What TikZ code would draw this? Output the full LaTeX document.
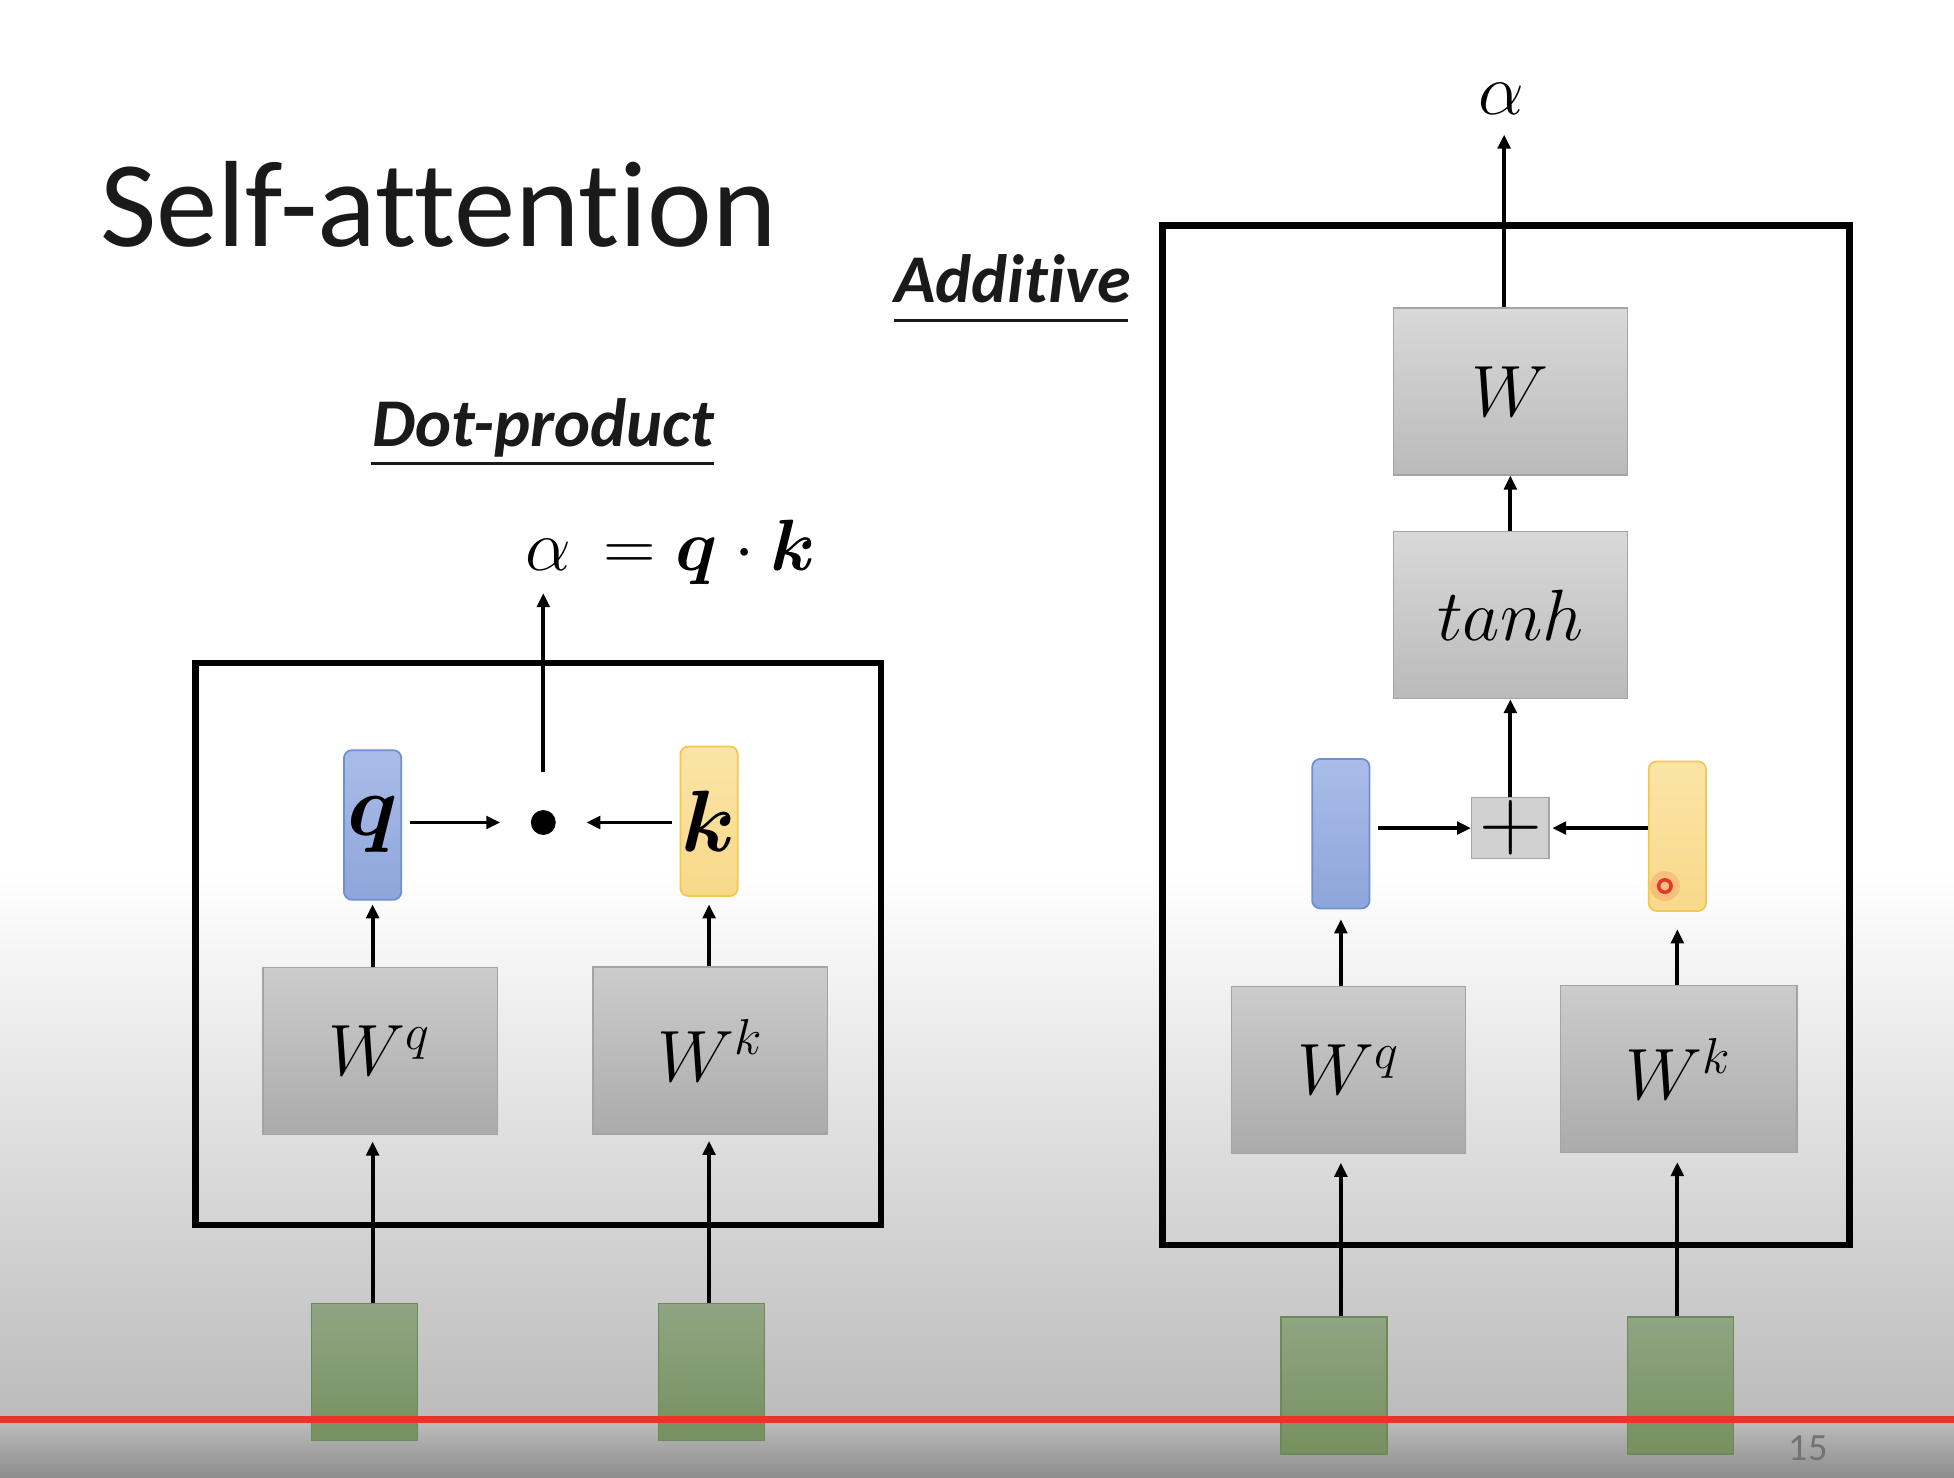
\documentclass[tikz,border=0pt]{standalone}
\usepackage{fontspec}
\usepackage{amsmath,bm}
\newfontfamily\carlito[Ligatures=NoCommon]{Carlito}
\usetikzlibrary{arrows.meta,calc}
\newcommand\upx{0.125mm}
\definecolor{titlecol}{HTML}{1A1A1A}
\definecolor{boxline}{HTML}{A4A4A4}
\definecolor{blueline}{HTML}{6D8FD6}
\definecolor{bluetop}{HTML}{AABDE9}
\definecolor{bluebot}{HTML}{8EA5DB}
\definecolor{yelline}{HTML}{F2C94C}
\definecolor{yeltop}{HTML}{FBE4A6}
\definecolor{yelbot}{HTML}{F8D98A}
\definecolor{grline}{HTML}{6C8A58}
\definecolor{grtop}{HTML}{8FA583}
\definecolor{grbot}{HTML}{76905F}
\definecolor{redline}{HTML}{E8352A}
\begin{document}
\begin{tikzpicture}[x=0.125mm,y=-0.125mm,
  arr/.style={-{Triangle[length=4pt,width=3.6pt]}, line width=1.1pt, black},
  frame/.style={line width=1.9pt, black},
  wbox/.style={draw=boxline, line width=0.4pt, top color=#1, bottom color=black!27,
    minimum width=188*\upx, minimum height=134*\upx, inner sep=0,
    font=\fontsize{20}{24}\selectfont},
  wbox/.default={black!15},
  wboxlow/.style={wbox, top color=black!20, bottom color=black!33},
  qvec/.style={draw=blueline, line width=0.5pt, rounded corners=0.8mm, top color=bluetop, bottom color=bluebot,
    minimum width=46*\upx, minimum height=120*\upx, inner sep=0, font=\fontsize{24}{28}\selectfont},
  kvec/.style={draw=yelline, line width=0.5pt, rounded corners=0.8mm, top color=yeltop, bottom color=yelbot,
    minimum width=46*\upx, minimum height=120*\upx, inner sep=0, font=\fontsize{24}{28}\selectfont},
  invec/.style={draw=grline, line width=0.5pt, top color=grtop, bottom color=grbot,
    minimum width=85*\upx, minimum height=110*\upx, inner sep=0},
  heading/.style={font=\carlito\bfseries\itshape\fontsize{19.5}{22}\selectfont, inner sep=0, anchor=base west, text=titlecol},
  mathlbl/.style={font=\fontsize{20}{24}\selectfont, inner sep=0}
]
\useasboundingbox (0,0) rectangle (1568,1186);
\clip (0,0) rectangle (1568,1186);
% background
\fill[white] (0,0) rectangle (1568,701);
\shade[top color=white, bottom color=black!27] (0,700) rectangle (1568,1146);
\shade[top color=black!28, bottom color=black!45] (0,1145) rectangle (1568,1186);

% titles
\node[anchor=base west, inner sep=0, font=\carlito\fontsize{35}{40}\selectfont, text=titlecol] (title) at (80,198) {Self-attention};
\node[heading] (dp) at (298,358) {Dot-product};
\draw[line width=0.7pt, titlecol] (298,372) -- (573,372);
\node[heading] (ad) at (717,243) {Additive};
\draw[line width=0.7pt, titlecol] (717,257) -- (905,257);

% ---------- Dot-product ----------
\draw[frame] (157,532) rectangle (707,983);
\node[wboxlow] (Wq1) at (305,843.5) {$W^{q}$};
\node[wboxlow] (Wk1) at (570,843) {$W^{k}$};
\node[qvec] (q1) at (299,662) {$\bm{q}$};
\node[kvec] (k1) at (569,659) {$\bm{k}$};
\node[circle, fill=black, inner sep=0, minimum size=20*\upx] (dot) at (436,660) {};
\node[mathlbl, anchor=base west] (eq1) at (421,458) {$\alpha\,= \bm{q}\cdot\bm{k}$};
\coordinate (a1) at (436,476);
\node[invec] (g1) at (292.5,1101) {};
\node[invec] (g2) at (571,1101) {};

\draw[arr] ([yshift=30*\upx]dot.north) -- (a1);
\draw[arr] ([xshift=6*\upx]q1.east |- dot) -- ([xshift=-24*\upx]dot.west);
\draw[arr] ([xshift=-6*\upx]k1.west |- dot) -- ([xshift=24*\upx]dot.east);
\draw[arr] (Wq1.north -| q1) -- ([yshift=-3*\upx]q1.south);
\draw[arr] (Wk1.north -| k1) -- ([yshift=-6*\upx]k1.south);
\draw[arr] (g1.north -| q1) -- ([yshift=-5*\upx]Wq1.south -| q1);
\draw[arr] (g2.north -| k1) -- ([yshift=-5*\upx]Wk1.south -| k1);

% ---------- Additive ----------
\draw[frame] (933,181) rectangle (1484,999);
\node[wbox] (W2) at (1212,314) {$W$};
\node[wbox] (tanh2) at (1212,493.5) {$tanh$};
\node[draw=boxline, line width=0.4pt, fill=black!18, minimum width=62*\upx, minimum height=49*\upx, inner sep=0,
      font=\fontsize{24}{26}\selectfont] (plus) at (1212,664.5) {$+$};
\node[qvec] (bl2) at (1076,669) {};
\node[kvec] (ye2) at (1346,671) {};
\node[wboxlow] (Wq2) at (1082,858.5) {$W^{q}$};
\node[wboxlow, minimum width=190*\upx] (Wk2) at (1347,858) {$W^{k}$};
\node[invec] (g3) at (1070.5,1112) {};
\node[invec] (g4) at (1348.5,1112) {};
\node[mathlbl, anchor=base] (al2) at (1205,92) {$\alpha$};
\coordinate (a2) at (1207,108);

\draw[arr] (W2.north -| a2) -- (a2);
\draw[arr] (tanh2.north) -- (W2.south);
\draw[arr] (plus.north) -- (tanh2.south);
\draw[arr] ([xshift=6*\upx]bl2.east |- plus) -- (plus.west);
\draw[arr] (ye2.west |- plus) -- ([xshift=2*\upx]plus.east);
\draw[arr] (Wq2.north -| bl2) -- ([yshift=-8*\upx]bl2.south);
\draw[arr] (Wk2.north -| ye2) -- ([yshift=-14*\upx]ye2.south);
\draw[arr] (g3.north -| bl2) -- ([yshift=-7*\upx]Wq2.south -| bl2);
\draw[arr] (g4.north -| ye2) -- ([yshift=-7*\upx]Wk2.south -| ye2);

% cursor mark
\fill[red, opacity=0.12] (1336,711) circle (12);
\draw[redline, line width=1pt] (1336,711) circle (5);

% red line and page number
\draw[redline, line width=1.8pt] (0,1139) -- (1568,1139);
\node[font=\carlito\fontsize{11}{12}\selectfont, text=black!55] (pg) at (1451,1162) {15};
\end{tikzpicture}
\end{document}
